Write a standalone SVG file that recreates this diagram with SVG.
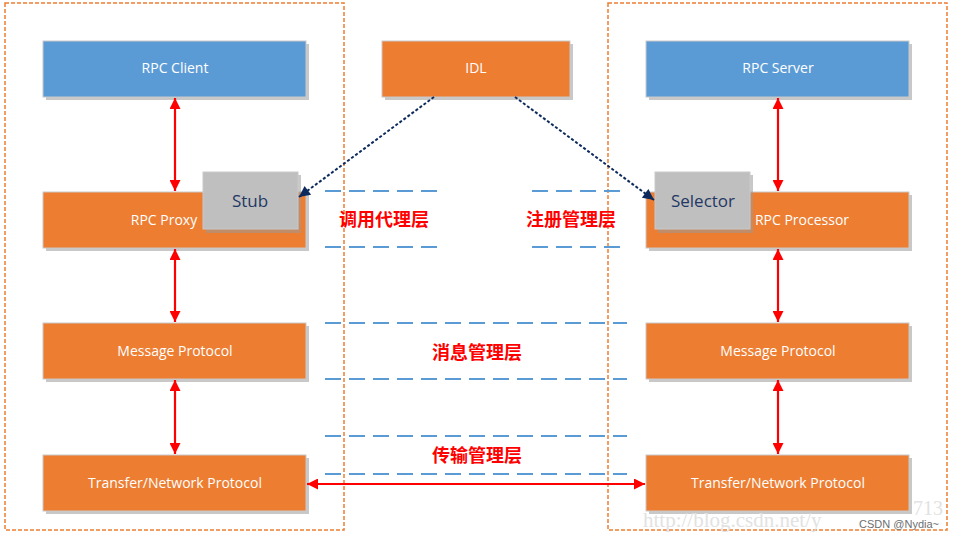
<svg xmlns="http://www.w3.org/2000/svg" width="954" height="539" viewBox="0 0 954 539">
<defs>
<style>
.box{stroke:#c9c9c9;stroke-width:1}
.blue{fill:#5b9bd5}
.orange{fill:#ed7d31}
.grey{fill:#bfbfbf}
.shadow{fill:#9a9a9a;opacity:0.55}
.lbl{font-family:"Open Sans","Liberation Sans",sans-serif;font-size:14px;fill:#ffffff;text-anchor:middle}
.sub{font-family:"Open Sans","Liberation Sans",sans-serif;font-size:17px;fill:#1f3864;text-anchor:middle}
.layer{font-family:"Noto Sans CJK SC",sans-serif;font-size:18px;font-weight:bold;fill:#ff0000;text-anchor:middle}
.cont{fill:none;stroke:#ed7d31;stroke-width:1.5;stroke-dasharray:4 2}
.sep{stroke:#5b9bd5;stroke-width:2;stroke-dasharray:16 8}
.red{stroke:#ff0000;stroke-width:2.2;fill:none;marker-start:url(#ra);marker-end:url(#ra)}
.dot{stroke:#0d2a5e;stroke-width:2;fill:none;stroke-dasharray:3 2;marker-end:url(#na)}
</style>
<marker id="ra" viewBox="0 0 10 10" refX="10" refY="5" markerWidth="14" markerHeight="11" markerUnits="userSpaceOnUse" orient="auto-start-reverse">
<path d="M0,0 L10,5 L0,10 z" fill="#ff0000"/>
</marker>
<marker id="na" viewBox="0 0 10 10" refX="10" refY="5" markerWidth="13" markerHeight="11" markerUnits="userSpaceOnUse" orient="auto">
<path d="M0,0 L10,5 L0,10 z" fill="#0d2a5e"/>
</marker>
</defs>
<rect width="954" height="539" fill="#ffffff"/>

<g id="containers">
<rect class="cont" x="5" y="3" width="339" height="527"/>
<rect class="cont" x="608" y="3" width="339" height="527"/>
</g>

<g id="separators">
<line class="sep" x1="325" y1="191" x2="437" y2="191"/>
<line class="sep" x1="532" y1="191" x2="627" y2="191"/>
<line class="sep" x1="325" y1="247" x2="437" y2="247"/>
<line class="sep" x1="532" y1="247" x2="627" y2="247"/>
<line class="sep" x1="325" y1="323" x2="627" y2="323"/>
<line class="sep" x1="325" y1="379" x2="627" y2="379"/>
<line class="sep" x1="325" y1="436" x2="627" y2="436"/>
<line class="sep" x1="325" y1="474" x2="627" y2="474"/>
</g>

<g id="layer-labels">
<text class="layer" x="384" y="226">调用代理层</text>
<text class="layer" x="571" y="226">注册管理层</text>
<text class="layer" x="477" y="359">消息管理层</text>
<text class="layer" x="477" y="462">传输管理层</text>
</g>

<g id="rpc-client">
<rect class="shadow" x="46" y="44" width="263" height="56"/>
<rect class="box blue" x="43" y="41" width="263" height="56"/>
<text class="lbl" x="175" y="73">RPC Client</text>
</g>
<g id="rpc-proxy">
<rect class="shadow" x="46" y="195" width="263" height="56"/>
<rect class="box orange" x="43" y="192" width="263" height="56"/>
<text class="lbl" x="164" y="225">RPC Proxy</text>
</g>
<g id="stub">
<rect class="shadow" x="206" y="175" width="95" height="58"/>
<rect class="box grey" x="203" y="172" width="95" height="57"/>
<text class="sub" x="250" y="207">Stub</text>
</g>
<g id="msg-left">
<rect class="shadow" x="46" y="326" width="263" height="56"/>
<rect class="box orange" x="43" y="323" width="263" height="56"/>
<text class="lbl" x="175" y="356">Message Protocol</text>
</g>
<g id="transfer-left">
<rect class="shadow" x="46" y="458" width="263" height="56"/>
<rect class="box orange" x="43" y="455" width="263" height="56"/>
<text class="lbl" x="175" y="488">Transfer/Network Protocol</text>
</g>

<g id="idl">
<rect class="shadow" x="385" y="44" width="188" height="56"/>
<rect class="box orange" x="382" y="41" width="188" height="56"/>
<text class="lbl" x="476" y="73">IDL</text>
</g>

<g id="rpc-server">
<rect class="shadow" x="649" y="44" width="263" height="56"/>
<rect class="box blue" x="646" y="41" width="263" height="56"/>
<text class="lbl" x="778" y="73">RPC Server</text>
</g>
<g id="rpc-processor">
<rect class="shadow" x="649" y="195" width="263" height="56"/>
<rect class="box orange" x="646" y="192" width="263" height="56"/>
<text class="lbl" x="802" y="225">RPC Processor</text>
</g>
<g id="selector">
<rect class="shadow" x="658" y="175" width="95" height="58"/>
<rect class="box grey" x="655" y="172" width="95" height="57"/>
<text class="sub" x="703" y="207">Selector</text>
</g>
<g id="msg-right">
<rect class="shadow" x="649" y="326" width="263" height="56"/>
<rect class="box orange" x="646" y="323" width="263" height="56"/>
<text class="lbl" x="778" y="356">Message Protocol</text>
</g>
<g id="transfer-right">
<rect class="shadow" x="649" y="458" width="263" height="56"/>
<rect class="box orange" x="646" y="455" width="263" height="56"/>
<text class="lbl" x="778" y="488">Transfer/Network Protocol</text>
</g>

<g id="connectors">
<line class="red" x1="175" y1="98" x2="175" y2="191"/>
<line class="red" x1="175" y1="249" x2="175" y2="322"/>
<line class="red" x1="175" y1="380" x2="175" y2="454"/>
<line class="red" x1="778" y1="98" x2="778" y2="191"/>
<line class="red" x1="778" y1="249" x2="778" y2="322"/>
<line class="red" x1="778" y1="380" x2="778" y2="454"/>
<line class="red" x1="307" y1="484" x2="645" y2="484"/>
<line class="dot" x1="434" y1="97" x2="299" y2="197"/>
<line class="dot" x1="515" y1="97" x2="654" y2="200"/>
</g>

<g id="watermark">
<text x="643" y="527" font-family="Liberation Serif,serif" font-size="21" fill="#e2e2e2">http://blog.csdn.net/y</text>
<text x="943" y="515" font-family="Liberation Serif,serif" font-size="20" fill="#e2e2e2" text-anchor="end">713</text>
<text x="939" y="528" font-family="Liberation Sans,sans-serif" font-size="11" fill="#6e6e6e" text-anchor="end">CSDN @Nydia~</text>
</g>
</svg>
